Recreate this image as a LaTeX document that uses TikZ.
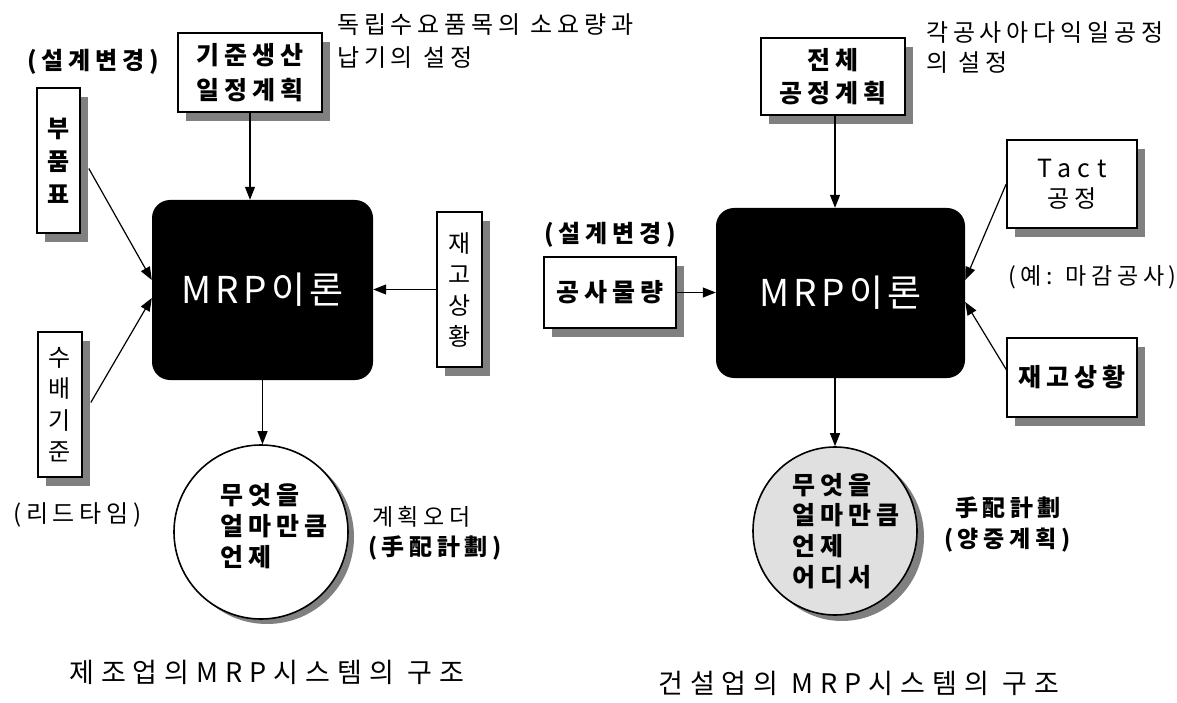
\documentclass[tikz,border=0pt]{standalone}
\usepackage{fontspec}
\setmainfont{Noto Sans CJK KR}
\newfontfamily\krA[LetterSpace=20]{Noto Sans CJK KR}
\newfontfamily\krT[LetterSpace=26]{Noto Sans CJK KR}
\newfontfamily\krM[LetterSpace=12]{Noto Sans CJK KR}
\newfontfamily\krL[LetterSpace=27]{Noto Sans CJK KR}
\usetikzlibrary{arrows.meta,shadows,shapes.geometric}
\begin{document}
\begin{tikzpicture}[x=1pt,y=-1pt,
  lbl/.style={inner sep=0pt, anchor=west, font=\krA\fontsize{24}{28}\selectfont},
  lblb/.style={lbl, font=\krA\bfseries\fontsize{24}{28}\selectfont},
  title/.style={inner sep=0pt, anchor=west, font=\krT\fontsize{27}{30}\selectfont},
  box/.style={draw=black, line width=1.6pt, fill=white, inner sep=0pt, align=center,
    drop shadow={shadow xshift=8pt, shadow yshift=-9pt, fill=black!50, opacity=1}},
  mrpbox/.style={fill=black, rounded corners=18pt, inner sep=0pt, text=white,
    font=\krM\fontsize{37}{40}\selectfont},
  conn/.style={line width=1.2pt, -{Triangle[length=13pt,width=10pt]}},
  shade/.style={drop shadow={shadow xshift=6pt, shadow yshift=-5pt, fill=black!50, opacity=1}},
]
\useasboundingbox (0,0) rectangle (1177,703);

% ---------------- left diagram ----------------
\node[lbl] (t1a) at (337,25) {독립수요품목의 소요량과};
\node[lbl] (t1b) at (337,58) {납기의 설정};
\node[lblb] (d1) at (27,62) {(설계변경)};

\node[box, minimum width=144pt, minimum height=79pt,
      font=\krA\bfseries\fontsize{25}{35}\selectfont] (std) at (250,72.5) {기준생산\\일정계획};
\node[box, minimum width=43pt, minimum height=145pt,
      font=\krA\bfseries\fontsize{24}{33}\selectfont] (bp) at (58.5,160.5) {부\\품\\표};
\node[mrpbox, minimum width=221pt, minimum height=180pt] (mrp1) at (262.5,290) {MRP이론};
\node[box, minimum width=45pt, minimum height=155pt,
      font=\krA\fontsize{24}{31}\selectfont] (stock1) at (459.5,289.5) {재\\고\\상\\황};
\node[box, minimum width=44pt, minimum height=145pt,
      font=\krA\fontsize{24}{31.5}\selectfont] (sb) at (60,404.5) {수\\배\\기\\준};
\node[lbl] (lt) at (13,515) {(리드타임)};

\node[circle, draw=black, line width=1.6pt, fill=white, minimum size=174pt, inner sep=0pt, shade] (c1) at (261,532) {};
\node[inner sep=0pt, anchor=west, align=left, font=\krA\bfseries\fontsize{25}{31}\selectfont] (c1t) at (220,526) {무엇을\\얼마만큼\\언제};
\node[lbl, font=\krA\fontsize{23}{28}\selectfont] (po1) at (372,517) {계획오더};
\node[lblb, font=\krA\bfseries\fontsize{23}{28}\selectfont] (po2) at (368,548) {(手配計劃)};

\node[title] (title1) at (69,672) {제조업의MRP시스템의 구조};

\draw[conn] (std.south) -- (std.south |- mrp1.north);
\draw[conn] (mrp1.south) -- (mrp1.south |- c1.north);
\draw[conn] (stock1.west) -- (stock1.west -| mrp1.east);
\draw[conn] ([xshift=8pt,yshift=-8pt]bp.east) -- ([yshift=10pt]mrp1.west);
\draw[conn] ([xshift=8pt,yshift=2pt]sb.east) -- ([yshift=-8pt]mrp1.west);

% ---------------- right diagram ----------------
\node[lbl] (r1a) at (926,33) {각공사아다익일공정};
\node[lbl] (r1b) at (926,63) {의 설정};
\node[lblb] (d2) at (544,235) {(설계변경)};

\node[box, minimum width=144pt, minimum height=77pt,
      font=\krA\bfseries\fontsize{25}{33}\selectfont] (whole) at (833,76.5) {전체\\공정계획};
\node[box, minimum width=132pt, minimum height=71pt,
      font=\krA\bfseries\fontsize{25}{28}\selectfont] (qty) at (610,292.5) {공사물량};
\node[mrpbox, minimum width=249pt, minimum height=170pt] (mrp2) at (840.5,293) {MRP이론};
\node[box, minimum width=130pt, minimum height=88pt,
      font=\krA\fontsize{24}{30}\selectfont] (tact) at (1072,184) {{\krL\fontsize{25}{30}\selectfont Tact}\\공정};
\node[lbl, font=\krA\fontsize{23}{28}\selectfont] (ex) at (1008,277) {(예: 마감공사)};
\node[box, minimum width=130pt, minimum height=79pt,
      font=\krA\bfseries\fontsize{25}{28}\selectfont] (stock2) at (1072,377.5) {재고상황};

\node[ellipse, draw=black, line width=1.6pt, fill=black!12, minimum width=164pt, minimum height=168pt, inner sep=0pt,
      drop shadow={shadow xshift=7pt, shadow yshift=-6pt, fill=black!50, opacity=1}] (c2) at (835,531) {};
\node[inner sep=0pt, anchor=west, align=left, font=\krA\bfseries\fontsize{25}{30.7}\selectfont] (c2t) at (792,531) {무엇을\\얼마만큼\\언제\\어디서};
\node[lblb, font=\krA\bfseries\fontsize{23}{28}\selectfont] (hp1) at (955,508) {手配計劃};
\node[lblb, font=\krA\bfseries\fontsize{23}{28}\selectfont] (hp2) at (944,540) {(양중계획)};

\node[title] (title2) at (658,683) {건설업의 MRP시스템의 구조};

\draw[conn] (whole.south -| c2.north) -- (c2.north |- mrp2.north);
\draw[conn] (mrp2.south -| c2.north) -- (c2.north);
\draw[conn] (qty.east) -- (qty.east -| mrp2.west);
\draw[conn] (tact.west) -- ([yshift=13pt]mrp2.east);
\draw[conn] ([yshift=8pt]stock2.west) -- ([yshift=-9pt]mrp2.east);
\end{tikzpicture}
\end{document}
